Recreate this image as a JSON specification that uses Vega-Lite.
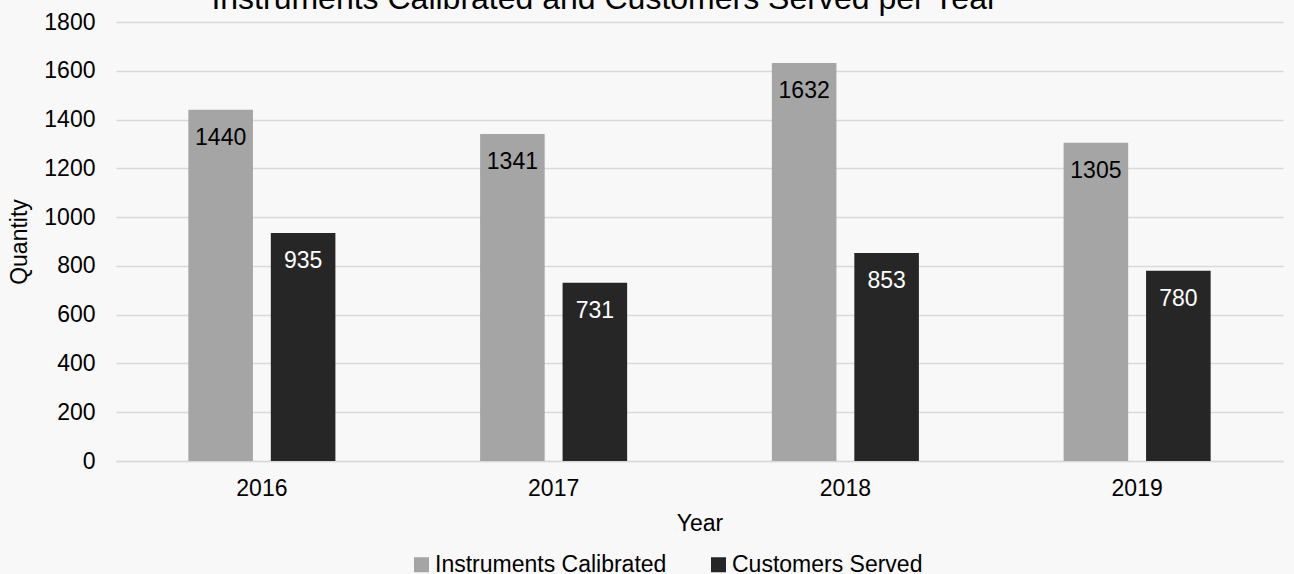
{
  "$schema": "https://vega.github.io/schema/vega-lite/v6.json",
  "autosize": {"type": "none"},
  "width": 1167,
  "height": 439,
  "padding": {"left": 116, "top": 22, "right": 11, "bottom": 113},
  "background": "#f8f8f8",
  "config": {
    "view": {"stroke": null},
    "font": "Liberation Sans",
    "axis": {"labelFont": "Liberation Sans", "titleFont": "Liberation Sans", "labelColor": "#000000", "titleColor": "#000000", "titleFontWeight": "normal"}
  },
  "title": {
    "text": "Instruments Calibrated and Customers Served per Year",
    "fontSize": 32,
    "fontWeight": "normal",
    "font": "Liberation Sans",
    "color": "#000000",
    "anchor": "middle",
    "dx": -95,
    "dy": 30,
    "baseline": "alphabetic",
    "offset": 0
  },
  "data": {
    "values": [
      {"Year": "2016", "Series": "Instruments Calibrated", "Quantity": 1440},
      {"Year": "2016", "Series": "Customers Served", "Quantity": 935},
      {"Year": "2017", "Series": "Instruments Calibrated", "Quantity": 1341},
      {"Year": "2017", "Series": "Customers Served", "Quantity": 731},
      {"Year": "2018", "Series": "Instruments Calibrated", "Quantity": 1632},
      {"Year": "2018", "Series": "Customers Served", "Quantity": 853},
      {"Year": "2019", "Series": "Instruments Calibrated", "Quantity": 1305},
      {"Year": "2019", "Series": "Customers Served", "Quantity": 780}
    ]
  },
  "encoding": {
    "x": {
      "field": "Year", "type": "nominal",
      "scale": {"paddingInner": 0.496, "paddingOuter": 0.248},
      "axis": {"labelAngle": 0, "labelFontSize": 23, "labelPadding": 16, "ticks": false, "domainColor": "#d9d9d9", "domainWidth": 1.3, "title": "Year", "titleFontSize": 23, "titlePadding": 12}
    },
    "xOffset": {
      "field": "Series", "type": "nominal",
      "sort": ["Instruments Calibrated", "Customers Served"],
      "scale": {"paddingInner": 0.217, "paddingOuter": 0}
    },
    "y": {
      "field": "Quantity", "type": "quantitative",
      "scale": {"domain": [0, 1800], "nice": false},
      "axis": {"values": [0, 200, 400, 600, 800, 1000, 1200, 1400, 1600, 1800], "format": "d", "labelFontSize": 23, "labelPadding": 21, "ticks": false, "domain": false, "gridColor": "#d9d9d9", "gridWidth": 1.3, "title": "Quantity", "titleFontSize": 23, "titlePadding": 12}
    }
  },
  "layer": [
    {
      "mark": {"type": "bar"},
      "encoding": {
        "color": {
          "field": "Series", "type": "nominal",
          "scale": {"domain": ["Instruments Calibrated", "Customers Served"], "range": ["#a5a5a5", "#262626"]},
          "legend": {
            "title": null, "orient": "none", "direction": "horizontal",
            "legendX": 294, "legendY": 531,
            "labelFontSize": 23, "labelFont": "Liberation Sans", "labelColor": "#000000", "labelLimit": 0,
            "symbolType": "square", "symbolSize": 225, "symbolStrokeWidth": 0,
            "columnPadding": 40, "labelOffset": 2
          }
        }
      }
    },
    {
      "mark": {"type": "text", "baseline": "middle", "dy": 28, "fontSize": 23, "font": "Liberation Sans"},
      "encoding": {
        "text": {"field": "Quantity", "type": "quantitative"},
        "color": {"condition": {"test": "datum.Series === 'Customers Served'", "value": "#ffffff"}, "value": "#000000"}
      }
    }
  ]
}
